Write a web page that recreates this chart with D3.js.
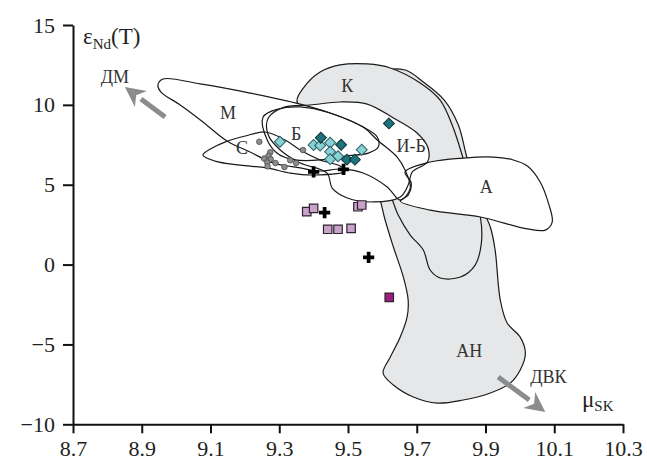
<!DOCTYPE html>
<html>
<head>
<meta charset="utf-8">
<script src="https://cdn.jsdelivr.net/npm/d3@7"></script>
<style>
  body { margin: 0; background: #fff; }
  svg { display: block; font-family: 'Liberation Serif', 'Times New Roman', serif; }
</style>
</head>
<body>
<svg id="chart"></svg>
<script>
// axis ticks
const xTicks = [8.7, 8.9, 9.1, 9.3, 9.5, 9.7, 9.9, 10.1, 10.3];
const yTicks = [-10, -5, 0, 5, 10, 15];

// field outlines, [muSK, epsNd]
const fieldAH = [[9.608, 12.06], [9.666, 12.18], [9.719, 11.43], [9.780, 10.30], [9.821, 8.74], [9.844, 6.86],
  [9.879, 4.04], [9.914, 2.35], [9.928, 0.91], [9.943, -2.22], [9.963, -3.66], [10.001, -4.54], [10.016, -5.54],
  [10.001, -6.60], [9.972, -7.42], [9.914, -8.04], [9.835, -8.48], [9.760, -8.67], [9.690, -8.29], [9.632, -7.54],
  [9.602, -6.79], [9.623, -5.79], [9.652, -4.54], [9.672, -3.28], [9.675, -2.22], [9.661, -0.78], [9.632, 1.10],
  [9.608, 2.79], [9.594, 4.04], [9.565, 6.55], [9.565, 9.68]];
const fieldK = [[9.352, 10.18], [9.370, 11.05], [9.419, 12.06], [9.477, 12.50], [9.556, 12.56], [9.623, 12.31],
  [9.710, 11.37], [9.768, 10.30], [9.803, 8.74], [9.832, 6.86], [9.856, 4.98], [9.885, 2.98], [9.888, 1.35],
  [9.870, -0.03], [9.827, -0.78], [9.768, -0.84], [9.739, -0.34], [9.719, 0.91], [9.681, 1.85], [9.646, 3.10],
  [9.623, 4.35], [9.565, 6.55], [9.448, 8.74]];
const fieldM = [[8.947, 11.24], [8.962, 11.62], [9.070, 11.31], [9.215, 10.74], [9.361, 10.05], [9.448, 9.49],
  [9.544, 8.61], [9.585, 7.80], [9.643, 6.73], [9.666, 5.92], [9.681, 4.79], [9.652, 4.04], [9.614, 4.86],
  [9.544, 5.73], [9.486, 5.98], [9.410, 5.86], [9.361, 6.05], [9.282, 6.36], [9.215, 7.05], [9.148, 7.74],
  [9.078, 8.93], [9.012, 9.99], [8.956, 10.80]];
const fieldA = [[9.666, 5.80], [9.739, 6.42], [9.835, 6.67], [9.923, 6.73], [9.981, 6.55], [10.022, 6.17],
  [10.059, 5.17], [10.083, 3.85], [10.094, 2.66], [10.074, 2.16], [10.022, 2.23], [9.885, 2.98], [9.739, 3.41],
  [9.652, 3.98], [9.675, 4.35], [9.684, 5.11]];
const fieldIB = [[9.268, 9.18], [9.317, 9.87], [9.390, 9.99], [9.477, 10.18], [9.556, 10.05], [9.632, 9.18],
  [9.701, 8.24], [9.733, 7.30], [9.731, 6.42], [9.687, 5.80], [9.675, 4.98], [9.652, 4.23], [9.573, 3.92],
  [9.498, 4.17], [9.454, 4.79], [9.439, 5.73], [9.361, 6.36], [9.303, 7.17], [9.268, 8.11]];
const fieldB = [[9.253, 9.24], [9.297, 9.74], [9.361, 9.87], [9.448, 9.49], [9.544, 8.61], [9.585, 7.99],
  [9.588, 7.36], [9.559, 6.98], [9.492, 6.80], [9.419, 6.55], [9.346, 6.55], [9.297, 6.92], [9.265, 7.80]];
const fieldC = [[9.078, 6.86], [9.105, 7.30], [9.142, 7.67], [9.201, 8.05], [9.259, 8.30], [9.317, 7.80],
  [9.361, 7.17], [9.419, 6.55], [9.477, 6.17], [9.492, 5.86], [9.399, 5.61], [9.332, 5.73], [9.265, 6.05],
  [9.186, 6.23], [9.113, 6.48]];

// samples
const darkDiamonds = [[9.421, 7.94], [9.480, 7.50], [9.619, 8.84], [9.497, 6.57], [9.520, 6.57]];
const lightDiamonds = [[9.302, 7.69], [9.400, 7.49], [9.419, 7.45], [9.448, 7.63], [9.448, 7.07],
  [9.471, 6.78], [9.448, 6.60], [9.540, 7.19]];
const grayCircles = [[9.242, 7.69], [9.274, 7.03], [9.269, 6.81], [9.256, 6.64], [9.275, 6.60], [9.265, 6.39],
  [9.289, 6.36], [9.266, 6.15], [9.315, 6.11], [9.332, 6.53], [9.349, 6.36], [9.369, 7.17]];
const pinkSquares = [[9.380, 3.31], [9.400, 3.52], [9.529, 3.62], [9.540, 3.73], [9.441, 2.21],
  [9.471, 2.21], [9.509, 2.27]];
const magentaSquares = [[9.620, -2.05]];
const crosses = [[9.400, 5.81], [9.487, 5.96], [9.432, 3.25], [9.560, 0.45]];

// field names and trend arrows
const fieldLabels = [
  { name: 'М', mu: 9.151, eps: 9.49 },
  { name: 'К', mu: 9.498, eps: 11.18 },
  { name: 'Б', mu: 9.349, eps: 8.17 },
  { name: 'С', mu: 9.192, eps: 7.30 },
  { name: 'И-Б', mu: 9.684, eps: 7.42 },
  { name: 'А', mu: 9.902, eps: 4.86 },
  { name: 'АН', mu: 9.853, eps: -5.41 },
  { name: 'ДМ', mu: 8.822, eps: 11.74 },
  { name: 'ДВК', mu: 10.083, eps: -7.04 },
];
const trendArrows = [
  { from: [8.968, 9.24], to: [8.851, 11.12] },
  { from: [9.937, -7.04], to: [10.074, -9.23] },
];

class NdMuChart {
  constructor(_config) {
    this.config = {
      parentElement: _config.parentElement,
      width: _config.width,
      height: _config.height,
      margin: _config.margin,
    };
    this.initVis();
  }

  initVis() {
    const vis = this;
    const { parentElement, width, height, margin } = vis.config;

    vis.svg = d3.select(parentElement)
      .attr('width', width)
      .attr('height', height);

    vis.x = d3.scaleLinear().domain([8.7, 10.3]).range([margin.left, width - margin.right]);
    vis.y = d3.scaleLinear().domain([-10, 15]).range([height - margin.bottom, margin.top]);

    vis.fieldLine = d3.line()
      .x((d) => vis.x(d[0]))
      .y((d) => vis.y(d[1]))
      .curve(d3.curveCatmullRomClosed.alpha(0.5));

    vis.renderVis();
  }

  renderVis() {
    const vis = this;
    const { x, y, svg, fieldLine } = vis;
    const { width, height, margin } = vis.config;

    // gray fields first, white fields cover them
    svg.append('g').selectAll('path')
      .data([fieldAH, fieldK])
      .join('path')
      .attr('d', fieldLine)
      .attr('fill', '#e6e7e8')
      .attr('stroke', '#1a1a1a')
      .attr('stroke-width', 1.2);

    const whiteFields = [fieldM, fieldA, fieldIB, fieldB, fieldC];
    svg.append('g').selectAll('path')
      .data(whiteFields)
      .join('path')
      .attr('d', fieldLine)
      .attr('fill', '#fff');
    svg.append('g').selectAll('path')
      .data(whiteFields)
      .join('path')
      .attr('d', fieldLine)
      .attr('fill', 'none')
      .attr('stroke', '#1a1a1a')
      .attr('stroke-width', 1.2);

    // axes
    const xAxis = svg.append('g')
      .attr('transform', `translate(0,${height - margin.bottom})`)
      .call(d3.axisBottom(x).tickValues(xTicks).tickFormat(d3.format('.1f'))
        .tickSize(9).tickSizeOuter(0).tickPadding(7));
    const yAxis = svg.append('g')
      .attr('transform', `translate(${margin.left},0)`)
      .call(d3.axisLeft(y).tickValues(yTicks).tickSize(10).tickSizeOuter(0).tickPadding(8));
    [xAxis, yAxis].forEach((g) => {
      g.selectAll('path, line').attr('stroke', '#111').attr('stroke-width', 2);
      g.selectAll('text').attr('font-size', 22).attr('fill', '#231f20')
        .attr('font-family', "'Liberation Serif', serif");
    });

    // axis titles
    const yTitle = svg.append('text')
      .attr('x', margin.left + 10)
      .attr('y', margin.top + 19)
      .attr('fill', '#231f20')
      .attr('font-size', 23);
    yTitle.append('tspan').text('ε');
    yTitle.append('tspan').attr('font-size', 15).attr('dy', 5).text('Nd');
    yTitle.append('tspan').attr('dy', -5).text('(T)');

    const xTitle = svg.append('text')
      .attr('x', width - 65)
      .attr('y', height - margin.bottom - 17)
      .attr('fill', '#231f20')
      .attr('font-size', 23);
    xTitle.append('tspan').text('μ');
    xTitle.append('tspan').attr('font-size', 15).attr('dy', 4).text('SK');

    // trend arrows
    const arrowG = svg.append('g');
    trendArrows.forEach((a) => {
      const x0 = x(a.from[0]);
      const y0 = y(a.from[1]);
      const x1 = x(a.to[0]);
      const y1 = y(a.to[1]);
      const ang = Math.atan2(y1 - y0, x1 - x0);
      const headLen = 20;
      const headW = 10;
      const bx = x1 - headLen * Math.cos(ang);
      const by = y1 - headLen * Math.sin(ang);
      arrowG.append('line')
        .attr('x1', x0).attr('y1', y0)
        .attr('x2', bx).attr('y2', by)
        .attr('stroke', '#8a8c8e')
        .attr('stroke-width', 5);
      const px = -Math.sin(ang) * headW;
      const py = Math.cos(ang) * headW;
      const bx2 = x1 - (headLen - 6) * Math.cos(ang);
      const by2 = y1 - (headLen - 6) * Math.sin(ang);
      arrowG.append('path')
        .attr('d', `M${x1},${y1}L${bx + px},${by + py}L${bx2},${by2}L${bx - px},${by - py}Z`)
        .attr('fill', '#8a8c8e');
    });

    // field labels
    svg.append('g').selectAll('text')
      .data(fieldLabels)
      .join('text')
      .attr('x', (d) => x(d.mu))
      .attr('y', (d) => y(d.eps))
      .attr('text-anchor', 'middle')
      .attr('dominant-baseline', 'central')
      .attr('font-size', 18)
      .attr('fill', '#333')
      .text((d) => d.name);

    // samples
    svg.append('g').selectAll('circle')
      .data(grayCircles)
      .join('circle')
      .attr('cx', (d) => x(d[0]))
      .attr('cy', (d) => y(d[1]))
      .attr('r', 2.8)
      .attr('fill', '#8d8d8d')
      .attr('stroke', '#4a4a4a')
      .attr('stroke-width', 0.8);

    const diamond = d3.symbol().type(d3.symbolSquare).size(60);
    const drawDiamonds = (data, fill, stroke) => {
      svg.append('g').selectAll('path')
        .data(data)
        .join('path')
        .attr('d', diamond)
        .attr('transform', (d) => `translate(${x(d[0])},${y(d[1])}) rotate(45)`)
        .attr('fill', fill)
        .attr('stroke', stroke)
        .attr('stroke-width', 1);
    };
    drawDiamonds(lightDiamonds, '#88d1d5', '#2a5f63');
    drawDiamonds(darkDiamonds, '#1c737b', '#0c3236');

    const square = d3.symbol().type(d3.symbolSquare).size(72);
    const drawSquares = (data, fill) => {
      svg.append('g').selectAll('path')
        .data(data)
        .join('path')
        .attr('d', square)
        .attr('transform', (d) => `translate(${x(d[0])},${y(d[1])})`)
        .attr('fill', fill)
        .attr('stroke', '#2e232e')
        .attr('stroke-width', 1.2);
    };
    drawSquares(pinkSquares, '#c9a2c9');
    drawSquares(magentaSquares, '#9c1f7f');

    const cross = d3.symbol().type(d3.symbolCross).size(70);
    svg.append('g').selectAll('path')
      .data(crosses)
      .join('path')
      .attr('d', cross)
      .attr('transform', (d) => `translate(${x(d[0])},${y(d[1])})`)
      .attr('fill', '#000');
  }
}

new NdMuChart({
  parentElement: '#chart',
  width: 647,
  height: 462,
  margin: { top: 25, right: 24, bottom: 37.7, left: 73 },
});
</script>
</body>
</html>
